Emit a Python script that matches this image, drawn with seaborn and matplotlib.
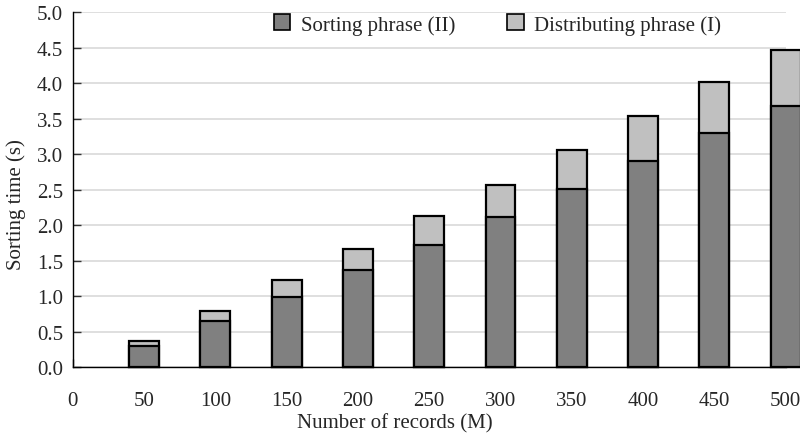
import matplotlib
matplotlib.use("Agg")
import matplotlib.pyplot as plt
import seaborn as sns
import pandas as pd
from matplotlib.patches import Patch

records = [50, 100, 150, 200, 250, 300, 350, 400, 450, 500]
sorting_II = [0.29, 0.65, 0.99, 1.36, 1.72, 2.12, 2.51, 2.90, 3.30, 3.67]
total_time = [0.37, 0.79, 1.22, 1.66, 2.13, 2.57, 3.05, 3.53, 4.01, 4.46]
xticks = [0, 50, 100, 150, 200, 250, 300, 350, 400, 450, 500]
yticks = [0.0, 0.5, 1.0, 1.5, 2.0, 2.5, 3.0, 3.5, 4.0, 4.5, 5.0]

sns.set_style("white")
plt.rcParams['font.family'] = ['Liberation Serif', 'DejaVu Serif']

df = pd.DataFrame({"records": records, "sorting": sorting_II, "total": total_time})

fig = plt.figure(figsize=(8, 4.35), dpi=100)
ax = fig.add_axes([0.091, 0.154, 0.891, 0.816])

dark = "#808080"
light = "#c0c0c0"

sns.barplot(data=df, x="records", y="total", native_scale=True, width=0.42,
            color=light, saturation=1, edgecolor="black", linewidth=1.6, ax=ax)
sns.barplot(data=df, x="records", y="sorting", native_scale=True, width=0.42,
            color=dark, saturation=1, edgecolor="black", linewidth=1.6, ax=ax)
for p in ax.patches:
    p.set_clip_on(False)

ax.set_xlim(0, 500)
ax.set_ylim(0, 5.0)
ax.set_xticks(xticks)
ax.set_xticklabels([str(v) for v in xticks])
ax.set_yticks(yticks)
ax.set_yticklabels([f"{v:.1f}" for v in yticks])
ax.yaxis.grid(True, color="#d9d9d9", linewidth=1.2)
ax.set_axisbelow(True)
for s in ["top", "right"]:
    ax.spines[s].set_visible(False)
for s in ["left", "bottom"]:
    ax.spines[s].set_color("black")
    ax.spines[s].set_linewidth(1.0)
ax.tick_params(axis="x", direction="in", length=6, width=1, color="#333333",
               labelsize=15, pad=17, bottom=True)
ax.tick_params(axis="y", direction="in", length=6, width=1, color="#333333",
               labelsize=15, pad=7, left=True)

ax.set_xlabel("Number of records (M)", fontsize=15)
ax.set_ylabel("Sorting time (s)", fontsize=15)
ax.xaxis.set_label_coords(0.452, -0.13)
ax.yaxis.set_label_coords(-0.066, 0.46)

handles = [Patch(facecolor=dark, edgecolor="black", linewidth=1.2, label="Sorting phrase (II)"),
           Patch(facecolor=light, edgecolor="black", linewidth=1.2, label="Distributing phrase (I)")]
ax.legend(handles=handles, loc="upper left", bbox_to_anchor=(0.27, 1.017), ncol=2,
          frameon=False, fontsize=15, handlelength=0.8, handleheight=0.8,
          handletextpad=0.5, columnspacing=2.5, borderaxespad=0)

fig.savefig("out.png", dpi=100)
